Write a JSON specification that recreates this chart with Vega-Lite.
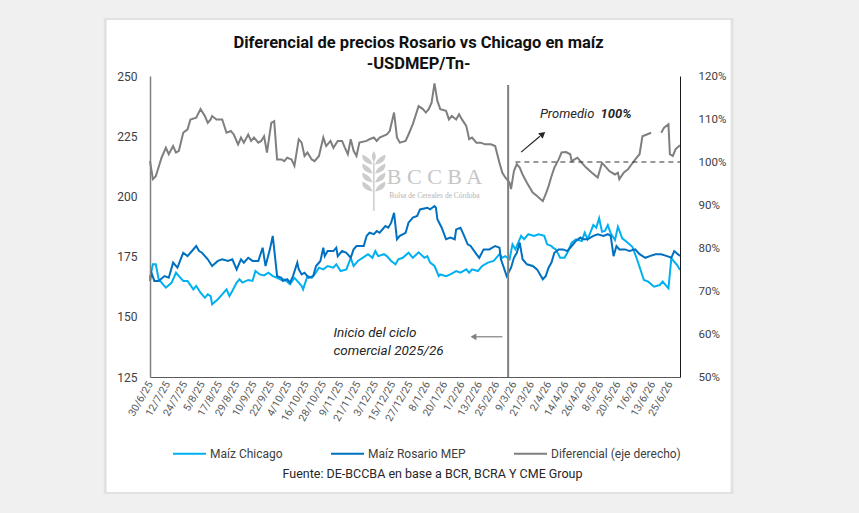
{
  "$schema": "https://vega.github.io/schema/vega-lite/v6.json",
  "width": 530,
  "height": 301,
  "autosize": {"type": "none"},
  "padding": {"left": 150, "top": 76, "right": 179, "bottom": 136},
  "background": "#f0f0f0",
  "title": {
    "text": ["Diferencial de precios Rosario vs Chicago en maíz", "-USDMEP/Tn-"],
    "font": "Roboto",
    "fontSize": 16.5,
    "fontWeight": "bold",
    "color": "#111111",
    "lineHeight": 21.5,
    "anchor": "middle",
    "frame": "bounds",
    "offset": -55,
    "zindex": 1
  },
  "datasets": {
    "chicago": [
      {"fecha": "2025-06-30", "valor": 166.2}, {"fecha": "2025-07-02", "valor": 171.8}, {"fecha": "2025-07-04", "valor": 171.8},
      {"fecha": "2025-07-06", "valor": 165.6}, {"fecha": "2025-07-09", "valor": 163.5}, {"fecha": "2025-07-11", "valor": 162.1},
      {"fecha": "2025-07-15", "valor": 164.2}, {"fecha": "2025-07-18", "valor": 168.3}, {"fecha": "2025-07-20", "valor": 166.9},
      {"fecha": "2025-07-23", "valor": 164.9}, {"fecha": "2025-07-26", "valor": 164.9}, {"fecha": "2025-07-30", "valor": 161.4},
      {"fecha": "2025-08-01", "valor": 162.8}, {"fecha": "2025-08-04", "valor": 160.0}, {"fecha": "2025-08-07", "valor": 157.9},
      {"fecha": "2025-08-09", "valor": 159.3}, {"fecha": "2025-08-11", "valor": 158.6}, {"fecha": "2025-08-12", "valor": 155.2},
      {"fecha": "2025-08-16", "valor": 157.3}, {"fecha": "2025-08-19", "valor": 159.3}, {"fecha": "2025-08-22", "valor": 161.4},
      {"fecha": "2025-08-24", "valor": 158.6}, {"fecha": "2025-08-26", "valor": 160.7}, {"fecha": "2025-08-29", "valor": 164.2},
      {"fecha": "2025-08-31", "valor": 165.6}, {"fecha": "2025-09-02", "valor": 164.2}, {"fecha": "2025-09-06", "valor": 165.3},
      {"fecha": "2025-09-09", "valor": 164.9}, {"fecha": "2025-09-11", "valor": 169.0}, {"fecha": "2025-09-14", "valor": 167.6},
      {"fecha": "2025-09-17", "valor": 167.2}, {"fecha": "2025-09-20", "valor": 168.3}, {"fecha": "2025-09-23", "valor": 166.9},
      {"fecha": "2025-09-26", "valor": 166.2}, {"fecha": "2025-09-29", "valor": 165.3}, {"fecha": "2025-10-01", "valor": 165.6},
      {"fecha": "2025-10-05", "valor": 163.5}, {"fecha": "2025-10-08", "valor": 166.2}, {"fecha": "2025-10-11", "valor": 164.2},
      {"fecha": "2025-10-13", "valor": 162.8}, {"fecha": "2025-10-14", "valor": 161.4}, {"fecha": "2025-10-17", "valor": 166.9},
      {"fecha": "2025-10-20", "valor": 166.2}, {"fecha": "2025-10-22", "valor": 167.6}, {"fecha": "2025-10-25", "valor": 170.4},
      {"fecha": "2025-10-28", "valor": 169.7}, {"fecha": "2025-10-31", "valor": 171.1}, {"fecha": "2025-11-04", "valor": 170.4},
      {"fecha": "2025-11-06", "valor": 171.8}, {"fecha": "2025-11-09", "valor": 169.0}, {"fecha": "2025-11-13", "valor": 169.7},
      {"fecha": "2025-11-16", "valor": 174.5}, {"fecha": "2025-11-18", "valor": 171.1}, {"fecha": "2025-11-21", "valor": 173.2},
      {"fecha": "2025-11-26", "valor": 175.2}, {"fecha": "2025-11-28", "valor": 176.0}, {"fecha": "2025-12-01", "valor": 174.5},
      {"fecha": "2025-12-03", "valor": 177.3}, {"fecha": "2025-12-05", "valor": 175.2}, {"fecha": "2025-12-09", "valor": 176.0},
      {"fecha": "2025-12-11", "valor": 175.2}, {"fecha": "2025-12-14", "valor": 173.2}, {"fecha": "2025-12-17", "valor": 171.8},
      {"fecha": "2025-12-19", "valor": 173.9}, {"fecha": "2025-12-22", "valor": 174.5}, {"fecha": "2025-12-26", "valor": 176.6},
      {"fecha": "2025-12-29", "valor": 174.5}, {"fecha": "2026-01-02", "valor": 176.8}, {"fecha": "2026-01-06", "valor": 174.5},
      {"fecha": "2026-01-08", "valor": 175.2}, {"fecha": "2026-01-10", "valor": 172.5}, {"fecha": "2026-01-13", "valor": 171.1},
      {"fecha": "2026-01-16", "valor": 166.9}, {"fecha": "2026-01-17", "valor": 167.6}, {"fecha": "2026-01-21", "valor": 166.9},
      {"fecha": "2026-01-24", "valor": 167.6}, {"fecha": "2026-01-28", "valor": 169.0}, {"fecha": "2026-01-31", "valor": 168.3},
      {"fecha": "2026-02-04", "valor": 169.7}, {"fecha": "2026-02-06", "valor": 168.3}, {"fecha": "2026-02-08", "valor": 169.7},
      {"fecha": "2026-02-12", "valor": 169.0}, {"fecha": "2026-02-15", "valor": 171.1}, {"fecha": "2026-02-19", "valor": 172.5},
      {"fecha": "2026-02-23", "valor": 173.2}, {"fecha": "2026-02-27", "valor": 176.0}, {"fecha": "2026-03-01", "valor": 174.5},
      {"fecha": "2026-03-03", "valor": 175.2}, {"fecha": "2026-03-06", "valor": 173.9}, {"fecha": "2026-03-08", "valor": 180.1},
      {"fecha": "2026-03-10", "valor": 178.0}, {"fecha": "2026-03-14", "valor": 183.6}, {"fecha": "2026-03-16", "valor": 182.2},
      {"fecha": "2026-03-19", "valor": 184.3}, {"fecha": "2026-03-23", "valor": 183.6}, {"fecha": "2026-03-26", "valor": 184.3},
      {"fecha": "2026-03-30", "valor": 183.6}, {"fecha": "2026-04-01", "valor": 180.1}, {"fecha": "2026-04-04", "valor": 179.4},
      {"fecha": "2026-04-05", "valor": 178.7}, {"fecha": "2026-04-07", "valor": 178.0}, {"fecha": "2026-04-10", "valor": 174.5},
      {"fecha": "2026-04-13", "valor": 174.5}, {"fecha": "2026-04-15", "valor": 176.6}, {"fecha": "2026-04-18", "valor": 180.8},
      {"fecha": "2026-04-21", "valor": 182.2}, {"fecha": "2026-04-25", "valor": 181.5}, {"fecha": "2026-04-27", "valor": 184.9},
      {"fecha": "2026-04-29", "valor": 182.2}, {"fecha": "2026-05-03", "valor": 188.1}, {"fecha": "2026-05-05", "valor": 187.0},
      {"fecha": "2026-05-07", "valor": 190.9}, {"fecha": "2026-05-09", "valor": 185.3}, {"fecha": "2026-05-11", "valor": 185.7},
      {"fecha": "2026-05-13", "valor": 188.1}, {"fecha": "2026-05-15", "valor": 184.7}, {"fecha": "2026-05-18", "valor": 181.9},
      {"fecha": "2026-05-20", "valor": 187.4}, {"fecha": "2026-05-23", "valor": 182.6}, {"fecha": "2026-05-26", "valor": 181.2},
      {"fecha": "2026-05-30", "valor": 179.1}, {"fecha": "2026-06-02", "valor": 174.3}, {"fecha": "2026-06-07", "valor": 165.3},
      {"fecha": "2026-06-10", "valor": 164.6}, {"fecha": "2026-06-14", "valor": 162.5}, {"fecha": "2026-06-18", "valor": 163.2},
      {"fecha": "2026-06-20", "valor": 164.6}, {"fecha": "2026-06-24", "valor": 161.8}, {"fecha": "2026-06-26", "valor": 174.3},
      {"fecha": "2026-06-30", "valor": 171.5}, {"fecha": "2026-07-02", "valor": 169.4}
    ],
    "rosario": [
      {"fecha": "2025-06-30", "valor": 164.9}, {"fecha": "2025-07-01", "valor": 168.3}, {"fecha": "2025-07-03", "valor": 164.9},
      {"fecha": "2025-07-06", "valor": 164.9}, {"fecha": "2025-07-10", "valor": 166.9}, {"fecha": "2025-07-13", "valor": 166.2},
      {"fecha": "2025-07-16", "valor": 172.5}, {"fecha": "2025-07-19", "valor": 170.4}, {"fecha": "2025-07-23", "valor": 176.6},
      {"fecha": "2025-07-26", "valor": 175.2}, {"fecha": "2025-07-28", "valor": 176.6}, {"fecha": "2025-08-01", "valor": 179.4},
      {"fecha": "2025-08-03", "valor": 177.3}, {"fecha": "2025-08-05", "valor": 176.6}, {"fecha": "2025-08-09", "valor": 173.9},
      {"fecha": "2025-08-12", "valor": 171.1}, {"fecha": "2025-08-16", "valor": 173.2}, {"fecha": "2025-08-19", "valor": 173.9},
      {"fecha": "2025-08-23", "valor": 173.2}, {"fecha": "2025-08-26", "valor": 173.9}, {"fecha": "2025-08-29", "valor": 169.7},
      {"fecha": "2025-09-01", "valor": 173.9}, {"fecha": "2025-09-03", "valor": 172.5}, {"fecha": "2025-09-06", "valor": 174.5},
      {"fecha": "2025-09-09", "valor": 173.2}, {"fecha": "2025-09-13", "valor": 173.2}, {"fecha": "2025-09-16", "valor": 178.7},
      {"fecha": "2025-09-18", "valor": 171.1}, {"fecha": "2025-09-21", "valor": 178.0}, {"fecha": "2025-09-23", "valor": 183.6},
      {"fecha": "2025-09-25", "valor": 172.5}, {"fecha": "2025-09-26", "valor": 166.9}, {"fecha": "2025-09-29", "valor": 166.2},
      {"fecha": "2025-09-30", "valor": 164.9}, {"fecha": "2025-10-03", "valor": 165.6}, {"fecha": "2025-10-05", "valor": 164.2},
      {"fecha": "2025-10-07", "valor": 166.9}, {"fecha": "2025-10-10", "valor": 172.5}, {"fecha": "2025-10-11", "valor": 169.7},
      {"fecha": "2025-10-13", "valor": 167.6}, {"fecha": "2025-10-15", "valor": 168.3}, {"fecha": "2025-10-18", "valor": 166.2},
      {"fecha": "2025-10-21", "valor": 166.9}, {"fecha": "2025-10-23", "valor": 171.1}, {"fecha": "2025-10-26", "valor": 173.2},
      {"fecha": "2025-10-28", "valor": 178.7}, {"fecha": "2025-10-29", "valor": 175.2}, {"fecha": "2025-10-31", "valor": 177.3},
      {"fecha": "2025-11-04", "valor": 177.3}, {"fecha": "2025-11-06", "valor": 178.7}, {"fecha": "2025-11-07", "valor": 175.2},
      {"fecha": "2025-11-10", "valor": 177.3}, {"fecha": "2025-11-13", "valor": 176.6}, {"fecha": "2025-11-16", "valor": 174.5},
      {"fecha": "2025-11-18", "valor": 178.0}, {"fecha": "2025-11-20", "valor": 179.4}, {"fecha": "2025-11-25", "valor": 179.4},
      {"fecha": "2025-11-27", "valor": 183.6}, {"fecha": "2025-11-29", "valor": 184.9}, {"fecha": "2025-12-02", "valor": 184.3},
      {"fecha": "2025-12-04", "valor": 185.6}, {"fecha": "2025-12-06", "valor": 184.9}, {"fecha": "2025-12-10", "valor": 187.7},
      {"fecha": "2025-12-12", "valor": 187.0}, {"fecha": "2025-12-14", "valor": 189.1}, {"fecha": "2025-12-16", "valor": 193.2},
      {"fecha": "2025-12-18", "valor": 182.2}, {"fecha": "2025-12-20", "valor": 183.6}, {"fecha": "2025-12-24", "valor": 184.9},
      {"fecha": "2025-12-26", "valor": 189.1}, {"fecha": "2025-12-29", "valor": 191.2}, {"fecha": "2026-01-01", "valor": 191.9},
      {"fecha": "2026-01-03", "valor": 194.6}, {"fecha": "2026-01-08", "valor": 195.3}, {"fecha": "2026-01-10", "valor": 194.6},
      {"fecha": "2026-01-13", "valor": 196.0}, {"fecha": "2026-01-14", "valor": 195.3}, {"fecha": "2026-01-15", "valor": 190.5},
      {"fecha": "2026-01-18", "valor": 187.0}, {"fecha": "2026-01-21", "valor": 182.2}, {"fecha": "2026-01-24", "valor": 182.9},
      {"fecha": "2026-01-27", "valor": 182.2}, {"fecha": "2026-01-28", "valor": 186.3}, {"fecha": "2026-01-31", "valor": 187.0},
      {"fecha": "2026-02-02", "valor": 184.3}, {"fecha": "2026-02-05", "valor": 180.1}, {"fecha": "2026-02-07", "valor": 179.4},
      {"fecha": "2026-02-11", "valor": 176.0}, {"fecha": "2026-02-13", "valor": 174.5}, {"fecha": "2026-02-16", "valor": 178.0},
      {"fecha": "2026-02-20", "valor": 178.0}, {"fecha": "2026-02-24", "valor": 179.4}, {"fecha": "2026-02-27", "valor": 178.7},
      {"fecha": "2026-02-28", "valor": 173.9}, {"fecha": "2026-03-02", "valor": 170.4}, {"fecha": "2026-03-04", "valor": 166.9},
      {"fecha": "2026-03-07", "valor": 170.4}, {"fecha": "2026-03-09", "valor": 174.5}, {"fecha": "2026-03-11", "valor": 176.6},
      {"fecha": "2026-03-13", "valor": 180.8}, {"fecha": "2026-03-15", "valor": 173.9}, {"fecha": "2026-03-18", "valor": 171.8},
      {"fecha": "2026-03-22", "valor": 171.1}, {"fecha": "2026-03-25", "valor": 169.7}, {"fecha": "2026-03-29", "valor": 165.6},
      {"fecha": "2026-03-31", "valor": 166.9}, {"fecha": "2026-04-02", "valor": 170.4}, {"fecha": "2026-04-04", "valor": 172.5},
      {"fecha": "2026-04-06", "valor": 176.6}, {"fecha": "2026-04-09", "valor": 178.0}, {"fecha": "2026-04-12", "valor": 178.0},
      {"fecha": "2026-04-15", "valor": 177.3}, {"fecha": "2026-04-18", "valor": 179.4}, {"fecha": "2026-04-21", "valor": 181.5},
      {"fecha": "2026-04-24", "valor": 182.9}, {"fecha": "2026-04-26", "valor": 182.2}, {"fecha": "2026-04-29", "valor": 182.2},
      {"fecha": "2026-05-03", "valor": 183.6}, {"fecha": "2026-05-06", "valor": 184.3}, {"fecha": "2026-05-10", "valor": 183.6},
      {"fecha": "2026-05-13", "valor": 184.3}, {"fecha": "2026-05-15", "valor": 183.6}, {"fecha": "2026-05-17", "valor": 175.2},
      {"fecha": "2026-05-19", "valor": 179.4}, {"fecha": "2026-05-21", "valor": 178.0}, {"fecha": "2026-05-25", "valor": 178.0},
      {"fecha": "2026-05-28", "valor": 177.3}, {"fecha": "2026-06-01", "valor": 178.0}, {"fecha": "2026-06-04", "valor": 176.0},
      {"fecha": "2026-06-08", "valor": 174.5}, {"fecha": "2026-06-11", "valor": 175.2}, {"fecha": "2026-06-15", "valor": 176.0},
      {"fecha": "2026-06-19", "valor": 176.0}, {"fecha": "2026-06-23", "valor": 175.2}, {"fecha": "2026-06-26", "valor": 174.5},
      {"fecha": "2026-06-28", "valor": 177.3}, {"fecha": "2026-07-02", "valor": 175.2}
    ],
    "diferencial": [
      {"fecha": "2025-06-30", "valor": 100.2}, {"fecha": "2025-07-02", "valor": 96.0}, {"fecha": "2025-07-04", "valor": 96.7},
      {"fecha": "2025-07-08", "valor": 101.0}, {"fecha": "2025-07-11", "valor": 103.3}, {"fecha": "2025-07-13", "valor": 101.8},
      {"fecha": "2025-07-16", "valor": 103.7}, {"fecha": "2025-07-18", "valor": 102.2}, {"fecha": "2025-07-20", "valor": 102.6},
      {"fecha": "2025-07-23", "valor": 106.8}, {"fecha": "2025-07-26", "valor": 107.6}, {"fecha": "2025-07-28", "valor": 109.9},
      {"fecha": "2025-08-01", "valor": 110.3}, {"fecha": "2025-08-04", "valor": 112.3}, {"fecha": "2025-08-07", "valor": 110.7},
      {"fecha": "2025-08-09", "valor": 109.1}, {"fecha": "2025-08-11", "valor": 109.9}, {"fecha": "2025-08-12", "valor": 110.7},
      {"fecha": "2025-08-15", "valor": 109.9}, {"fecha": "2025-08-19", "valor": 109.9}, {"fecha": "2025-08-22", "valor": 106.8},
      {"fecha": "2025-08-25", "valor": 107.2}, {"fecha": "2025-08-27", "valor": 106.4}, {"fecha": "2025-08-30", "valor": 104.1},
      {"fecha": "2025-09-01", "valor": 105.7}, {"fecha": "2025-09-03", "valor": 104.5}, {"fecha": "2025-09-06", "valor": 106.4},
      {"fecha": "2025-09-08", "valor": 104.9}, {"fecha": "2025-09-10", "valor": 105.7}, {"fecha": "2025-09-13", "valor": 104.5},
      {"fecha": "2025-09-15", "valor": 104.9}, {"fecha": "2025-09-17", "valor": 106.0}, {"fecha": "2025-09-19", "valor": 102.2},
      {"fecha": "2025-09-22", "valor": 109.1}, {"fecha": "2025-09-24", "valor": 109.5}, {"fecha": "2025-09-26", "valor": 100.6},
      {"fecha": "2025-09-29", "valor": 100.6}, {"fecha": "2025-10-01", "valor": 100.2}, {"fecha": "2025-10-03", "valor": 101.0},
      {"fecha": "2025-10-06", "valor": 100.6}, {"fecha": "2025-10-08", "valor": 99.1}, {"fecha": "2025-10-11", "valor": 105.3},
      {"fecha": "2025-10-13", "valor": 104.5}, {"fecha": "2025-10-15", "valor": 101.4}, {"fecha": "2025-10-17", "valor": 102.2},
      {"fecha": "2025-10-20", "valor": 100.6}, {"fecha": "2025-10-22", "valor": 100.2}, {"fecha": "2025-10-25", "valor": 101.4},
      {"fecha": "2025-10-28", "valor": 105.7}, {"fecha": "2025-10-30", "valor": 103.7}, {"fecha": "2025-11-02", "valor": 104.9},
      {"fecha": "2025-11-04", "valor": 103.3}, {"fecha": "2025-11-07", "valor": 104.9}, {"fecha": "2025-11-10", "valor": 104.9},
      {"fecha": "2025-11-12", "valor": 103.3}, {"fecha": "2025-11-14", "valor": 101.8}, {"fecha": "2025-11-16", "valor": 105.3},
      {"fecha": "2025-11-18", "valor": 102.6}, {"fecha": "2025-11-20", "valor": 101.4}, {"fecha": "2025-11-22", "valor": 104.5},
      {"fecha": "2025-11-27", "valor": 104.9}, {"fecha": "2025-11-29", "valor": 105.3}, {"fecha": "2025-12-02", "valor": 105.7},
      {"fecha": "2025-12-04", "valor": 104.9}, {"fecha": "2025-12-06", "valor": 105.7}, {"fecha": "2025-12-11", "valor": 106.4},
      {"fecha": "2025-12-13", "valor": 107.2}, {"fecha": "2025-12-16", "valor": 111.5}, {"fecha": "2025-12-18", "valor": 105.7},
      {"fecha": "2025-12-20", "valor": 104.5}, {"fecha": "2025-12-24", "valor": 104.9}, {"fecha": "2025-12-26", "valor": 106.4},
      {"fecha": "2025-12-29", "valor": 108.8}, {"fecha": "2026-01-02", "valor": 113.0}, {"fecha": "2026-01-05", "valor": 112.3},
      {"fecha": "2026-01-07", "valor": 111.5}, {"fecha": "2026-01-09", "valor": 112.3}, {"fecha": "2026-01-11", "valor": 113.8},
      {"fecha": "2026-01-13", "valor": 118.3}, {"fecha": "2026-01-15", "valor": 114.2}, {"fecha": "2026-01-17", "valor": 112.3},
      {"fecha": "2026-01-21", "valor": 111.9}, {"fecha": "2026-01-23", "valor": 109.9}, {"fecha": "2026-01-25", "valor": 110.7},
      {"fecha": "2026-01-28", "valor": 109.9}, {"fecha": "2026-01-30", "valor": 111.1}, {"fecha": "2026-02-01", "valor": 109.9},
      {"fecha": "2026-02-04", "valor": 108.4}, {"fecha": "2026-02-06", "valor": 105.3}, {"fecha": "2026-02-08", "valor": 105.7},
      {"fecha": "2026-02-11", "valor": 104.5}, {"fecha": "2026-02-14", "valor": 104.5}, {"fecha": "2026-02-17", "valor": 104.1},
      {"fecha": "2026-02-21", "valor": 104.1}, {"fecha": "2026-02-24", "valor": 103.7}, {"fecha": "2026-02-27", "valor": 99.8},
      {"fecha": "2026-03-01", "valor": 97.5}, {"fecha": "2026-03-03", "valor": 96.4}, {"fecha": "2026-03-06", "valor": 95.2},
      {"fecha": "2026-03-07", "valor": 93.7}, {"fecha": "2026-03-09", "valor": 97.9}, {"fecha": "2026-03-11", "valor": 99.5},
      {"fecha": "2026-03-13", "valor": 98.7}, {"fecha": "2026-03-15", "valor": 97.1}, {"fecha": "2026-03-18", "valor": 95.2},
      {"fecha": "2026-03-22", "valor": 92.9}, {"fecha": "2026-03-25", "valor": 92.1}, {"fecha": "2026-03-29", "valor": 90.9},
      {"fecha": "2026-03-31", "valor": 92.5}, {"fecha": "2026-04-02", "valor": 94.4}, {"fecha": "2026-04-04", "valor": 96.7},
      {"fecha": "2026-04-06", "valor": 98.7}, {"fecha": "2026-04-09", "valor": 100.6}, {"fecha": "2026-04-11", "valor": 102.2},
      {"fecha": "2026-04-14", "valor": 102.3}, {"fecha": "2026-04-17", "valor": 101.8}, {"fecha": "2026-04-18", "valor": 100.2},
      {"fecha": "2026-04-20", "valor": 100.6}, {"fecha": "2026-04-22", "valor": 101.0}, {"fecha": "2026-04-25", "valor": 99.8},
      {"fecha": "2026-04-28", "valor": 98.7}, {"fecha": "2026-05-02", "valor": 97.5}, {"fecha": "2026-05-06", "valor": 96.4},
      {"fecha": "2026-05-09", "valor": 99.8}, {"fecha": "2026-05-12", "valor": 98.7}, {"fecha": "2026-05-14", "valor": 97.9},
      {"fecha": "2026-05-18", "valor": 97.1}, {"fecha": "2026-05-20", "valor": 97.5}, {"fecha": "2026-05-21", "valor": 96.0},
      {"fecha": "2026-05-24", "valor": 97.5}, {"fecha": "2026-05-27", "valor": 98.3}, {"fecha": "2026-05-30", "valor": 99.7},
      {"fecha": "2026-06-02", "valor": 101.0}, {"fecha": "2026-06-04", "valor": 101.8}, {"fecha": "2026-06-06", "valor": 106.0},
      {"fecha": "2026-06-09", "valor": 106.4}, {"fecha": "2026-06-12", "valor": 106.8}, {"fecha": "2026-06-15", "valor": null},
      {"fecha": "2026-06-19", "valor": 106.8}, {"fecha": "2026-06-21", "valor": 108.0}, {"fecha": "2026-06-24", "valor": 108.8},
      {"fecha": "2026-06-25", "valor": 101.8}, {"fecha": "2026-06-27", "valor": 101.4}, {"fecha": "2026-06-29", "valor": 103.0},
      {"fecha": "2026-07-02", "valor": 103.9}
    ]
  },
  "layer": [
    {
      "data": {"values": [{}]},
      "layer": [
        {
          "description": "Soft edge around the card",
          "mark": {"type": "rect", "color": "#e2e2e2"},
          "encoding": {
            "x": {
              "datum": {"year": 2025, "month": 5, "date": 29, "utc": true},
              "type": "temporal",
              "scale": {
                "type": "utc",
                "domain": [
                  {"year": 2025, "month": 6, "date": 30, "utc": true},
                  {"year": 2026, "month": 7, "date": 2, "utc": true}
                ]
              },
              "axis": {
                "zindex": 2,
                "tickCount": 40,
                "values": [
                  {"year": 2025, "month": 6, "date": 30, "utc": true},
                  {"year": 2025, "month": 7, "date": 12, "utc": true},
                  {"year": 2025, "month": 7, "date": 24, "utc": true},
                  {"year": 2025, "month": 8, "date": 5, "utc": true},
                  {"year": 2025, "month": 8, "date": 17, "utc": true},
                  {"year": 2025, "month": 8, "date": 29, "utc": true},
                  {"year": 2025, "month": 9, "date": 10, "utc": true},
                  {"year": 2025, "month": 9, "date": 22, "utc": true},
                  {"year": 2025, "month": 10, "date": 4, "utc": true},
                  {"year": 2025, "month": 10, "date": 16, "utc": true},
                  {"year": 2025, "month": 10, "date": 28, "utc": true},
                  {"year": 2025, "month": 11, "date": 9, "utc": true},
                  {"year": 2025, "month": 11, "date": 21, "utc": true},
                  {"year": 2025, "month": 12, "date": 3, "utc": true},
                  {"year": 2025, "month": 12, "date": 15, "utc": true},
                  {"year": 2025, "month": 12, "date": 27, "utc": true},
                  {"year": 2026, "month": 1, "date": 8, "utc": true},
                  {"year": 2026, "month": 1, "date": 20, "utc": true},
                  {"year": 2026, "month": 2, "date": 1, "utc": true},
                  {"year": 2026, "month": 2, "date": 13, "utc": true},
                  {"year": 2026, "month": 2, "date": 25, "utc": true},
                  {"year": 2026, "month": 3, "date": 9, "utc": true},
                  {"year": 2026, "month": 3, "date": 21, "utc": true},
                  {"year": 2026, "month": 4, "date": 2, "utc": true},
                  {"year": 2026, "month": 4, "date": 14, "utc": true},
                  {"year": 2026, "month": 4, "date": 26, "utc": true},
                  {"year": 2026, "month": 5, "date": 8, "utc": true},
                  {"year": 2026, "month": 5, "date": 20, "utc": true},
                  {"year": 2026, "month": 6, "date": 1, "utc": true},
                  {"year": 2026, "month": 6, "date": 13, "utc": true},
                  {"year": 2026, "month": 6, "date": 25, "utc": true}
                ],
                "labelExpr": "utcFormat(datum.value, '%-d/%-m/%y')",
                "labelAngle": -60,
                "labelAlign": "right",
                "labelBaseline": "middle",
                "labelPadding": 5,
                "labelFontSize": 10.5,
                "labelColor": "#595959",
                "labelOverlap": false,
                "labelBound": false,
                "labelFlush": false,
                "domainColor": "#595959",
                "domainWidth": 1,
                "title": "Fuente: DE-BCCBA en base a BCR, BCRA Y CME Group",
                "titleX": 282,
                "titleY": 96,
                "titleAlign": "center",
                "titleBaseline": "middle",
                "titleFontSize": 12.5,
                "titleFontWeight": "normal",
                "titleColor": "#262626"
              }
            },
            "x2": {"datum": {"year": 2026, "month": 8, "date": 8, "utc": true}},
            "y": {
              "datum": 274.1,
              "type": "quantitative",
              "scale": {"domain": [125, 250], "nice": false, "zero": false},
              "axis": {
                "zindex": 2,
                "values": [125, 150, 175, 200, 225, 250],
                "title": null,
                "labelPadding": 13,
                "domainColor": "#808080",
                "domainWidth": 1.5
              }
            },
            "y2": {"datum": 76.4}
          }
        },
        {
          "description": "White card behind the chart",
          "mark": {"type": "rect", "color": "#ffffff"},
          "encoding": {
            "x": {"datum": {"year": 2025, "month": 5, "date": 31, "utc": true}, "type": "temporal"},
            "x2": {"datum": {"year": 2026, "month": 8, "date": 6, "utc": true}},
            "y": {"datum": 273.3, "type": "quantitative"},
            "y2": {"datum": 77.2}
          }
        },
        {
          "description": "Watermark: wheat emblem",
          "mark": {
            "type": "point",
            "filled": true,
            "opacity": 1,
            "color": "#cccccc",
            "size": 3600,
            "shape": "M -0.025 -0.62 L 0.025 -0.62 L 0.025 1 L -0.025 1 Z M 0 -1 Q 0.13 -0.82 0 -0.62 Q -0.13 -0.82 0 -1 Z M -0.04 -0.55 Q -0.42 -0.6 -0.38 -0.88 Q -0.1 -0.76 -0.04 -0.55 Z M 0.04 -0.55 Q 0.42 -0.6 0.38 -0.88 Q 0.1 -0.76 0.04 -0.55 Z M -0.04 -0.25 Q -0.42 -0.3 -0.38 -0.58 Q -0.1 -0.46 -0.04 -0.25 Z M 0.04 -0.25 Q 0.42 -0.3 0.38 -0.58 Q 0.1 -0.46 0.04 -0.25 Z M -0.04 0.05 Q -0.42 0 -0.38 -0.28 Q -0.1 -0.16 -0.04 0.05 Z M 0.04 0.05 Q 0.42 0 0.38 -0.28 Q 0.1 -0.16 0.04 0.05 Z M -0.04 0.35 Q -0.42 0.3 -0.38 0.02 Q -0.1 0.14 -0.04 0.35 Z M 0.04 0.35 Q 0.42 0.3 0.38 0.02 Q 0.1 0.14 0.04 0.35 Z"
          },
          "encoding": {
            "x": {"datum": {"year": 2025, "month": 12, "date": 2, "utc": true}, "type": "temporal"},
            "y": {"datum": 206.4, "type": "quantitative"}
          }
        },
        {
          "mark": {"type": "text", "text": "B C C B A", "font": "Liberation Serif", "fontSize": 22, "color": "#c6c6c6", "align": "center", "baseline": "middle"},
          "encoding": {
            "x": {"datum": {"year": 2026, "month": 1, "date": 13, "utc": true}, "type": "temporal"},
            "y": {"datum": 208.1, "type": "quantitative"}
          }
        },
        {
          "mark": {"type": "text", "text": "Bolsa de Cereales de Córdoba", "font": "Liberation Serif", "fontSize": 7.5, "color": "#b4b4b4", "align": "center", "baseline": "middle"},
          "encoding": {
            "x": {"datum": {"year": 2026, "month": 1, "date": 13, "utc": true}, "type": "temporal"},
            "y": {"datum": 200.2, "type": "quantitative"}
          }
        },
        {
          "data": {"name": "chicago"},
          "mark": {"type": "line", "strokeWidth": 2},
          "encoding": {
            "x": {"field": "fecha", "type": "temporal"},
            "y": {"field": "valor", "type": "quantitative"},
            "color": {"datum": "Maíz Chicago"}
          }
        },
        {
          "data": {"name": "rosario"},
          "mark": {"type": "line", "strokeWidth": 2},
          "encoding": {
            "x": {"field": "fecha", "type": "temporal"},
            "y": {"field": "valor", "type": "quantitative"},
            "color": {"datum": "Maíz Rosario MEP"}
          }
        },
        {
          "description": "Start of the 2025/26 commercial cycle",
          "mark": {"type": "rule", "color": "#808080", "strokeWidth": 2},
          "encoding": {
            "x": {"datum": {"year": 2026, "month": 3, "date": 5, "utc": true}, "type": "temporal"},
            "y": {"datum": 246.3, "type": "quantitative"},
            "y2": {"datum": 125}
          }
        },
        {
          "mark": {"type": "rule", "color": "#7f7f7f", "strokeWidth": 1.2},
          "encoding": {
            "x": {"datum": {"year": 2026, "month": 3, "date": 1, "utc": true}, "type": "temporal"},
            "x2": {"datum": {"year": 2026, "month": 2, "date": 10, "utc": true}},
            "y": {"datum": 141.7, "type": "quantitative"}
          }
        },
        {
          "mark": {"type": "point", "shape": "triangle-left", "filled": true, "opacity": 1, "size": 45, "color": "#7f7f7f"},
          "encoding": {
            "x": {"datum": {"year": 2026, "month": 2, "date": 9, "utc": true}, "type": "temporal"},
            "y": {"datum": 141.7, "type": "quantitative"}
          }
        },
        {
          "mark": {"type": "text", "text": ["Inicio del ciclo", "comercial 2025/26"], "lineHeight": 18, "font": "Roboto", "fontStyle": "italic", "fontSize": 13.5, "color": "#262626", "align": "left", "baseline": "middle"},
          "encoding": {
            "x": {"datum": {"year": 2025, "month": 11, "date": 4, "utc": true}, "type": "temporal"},
            "y": {"datum": 143.2, "type": "quantitative"}
          }
        }
      ]
    },
    {
      "data": {"values": [{}]},
      "layer": [
        {
          "data": {"name": "diferencial"},
          "mark": {"type": "line", "strokeWidth": 2},
          "encoding": {
            "x": {"field": "fecha", "type": "temporal"},
            "y": {
              "field": "valor",
              "type": "quantitative",
              "scale": {"domain": [50, 120], "nice": false, "zero": false},
              "axis": {
                "zindex": 2,
                "orient": "right",
                "values": [50, 60, 70, 80, 90, 100, 110, 120],
                "labelExpr": "datum.value + '%'",
                "title": null,
                "labelPadding": 18,
                "labelFontSize": 11.5,
                "domainColor": "#1a1a1a",
                "domainWidth": 1
              }
            },
            "color": {"datum": "Diferencial (eje derecho)"}
          }
        },
        {
          "description": "Average level of the differential",
          "mark": {"type": "rule", "color": "#333333", "strokeWidth": 1.2, "strokeDash": [5, 4]},
          "encoding": {
            "x": {"datum": {"year": 2026, "month": 3, "date": 10, "utc": true}, "type": "temporal"},
            "x2": {"datum": {"year": 2026, "month": 7, "date": 2, "utc": true}},
            "y": {"datum": 100, "type": "quantitative"}
          }
        },
        {
          "mark": {"type": "rule", "color": "#262626", "strokeWidth": 1.2},
          "encoding": {
            "x": {"datum": {"year": 2026, "month": 3, "date": 14, "utc": true}, "type": "temporal"},
            "x2": {"datum": {"year": 2026, "month": 3, "date": 27, "utc": true}},
            "y": {"datum": 102.3, "type": "quantitative"},
            "y2": {"datum": 106.0}
          }
        },
        {
          "mark": {"type": "point", "shape": "triangle-up", "angle": 51, "filled": true, "opacity": 1, "size": 50, "color": "#262626"},
          "encoding": {
            "x": {"datum": {"year": 2026, "month": 3, "date": 29, "utc": true}, "type": "temporal"},
            "y": {"datum": 106.5, "type": "quantitative"}
          }
        },
        {
          "mark": {"type": "text", "text": "Promedio", "font": "Roboto", "fontStyle": "italic", "fontSize": 13, "color": "#262626", "align": "left", "baseline": "middle"},
          "encoding": {
            "x": {"datum": {"year": 2026, "month": 3, "date": 27, "utc": true}, "type": "temporal"},
            "y": {"datum": 111.1, "type": "quantitative"}
          }
        },
        {
          "mark": {"type": "text", "text": "100%", "font": "Roboto", "fontStyle": "italic", "fontWeight": "bold", "fontSize": 13, "color": "#262626", "align": "left", "baseline": "middle"},
          "encoding": {
            "x": {"datum": {"year": 2026, "month": 5, "date": 8, "utc": true}, "type": "temporal"},
            "y": {"datum": 111.1, "type": "quantitative"}
          }
        }
      ]
    }
  ],
  "resolve": {"scale": {"y": "independent"}},
  "config": {
    "view": {"stroke": null},
    "font": "Roboto",
    "axis": {
      "grid": false,
      "ticks": false,
      "tickSize": 0,
      "labelOverlap": false,
      "labelFont": "Roboto",
      "labelFontSize": 12,
      "labelColor": "#404040",
      "titleFont": "Roboto"
    },
    "range": {"category": ["#00B0F0", "#0070C0", "#7F7F7F"]},
    "legend": {
      "orient": "none",
      "legendX": 22,
      "legendY": 360,
      "direction": "horizontal",
      "title": null,
      "padding": 0,
      "symbolType": "stroke",
      "symbolSize": 1089,
      "symbolStrokeWidth": 2,
      "labelFont": "Roboto",
      "labelFontSize": 12,
      "labelColor": "#404040",
      "labelOffset": 3,
      "columnPadding": 44
    }
  }
}
